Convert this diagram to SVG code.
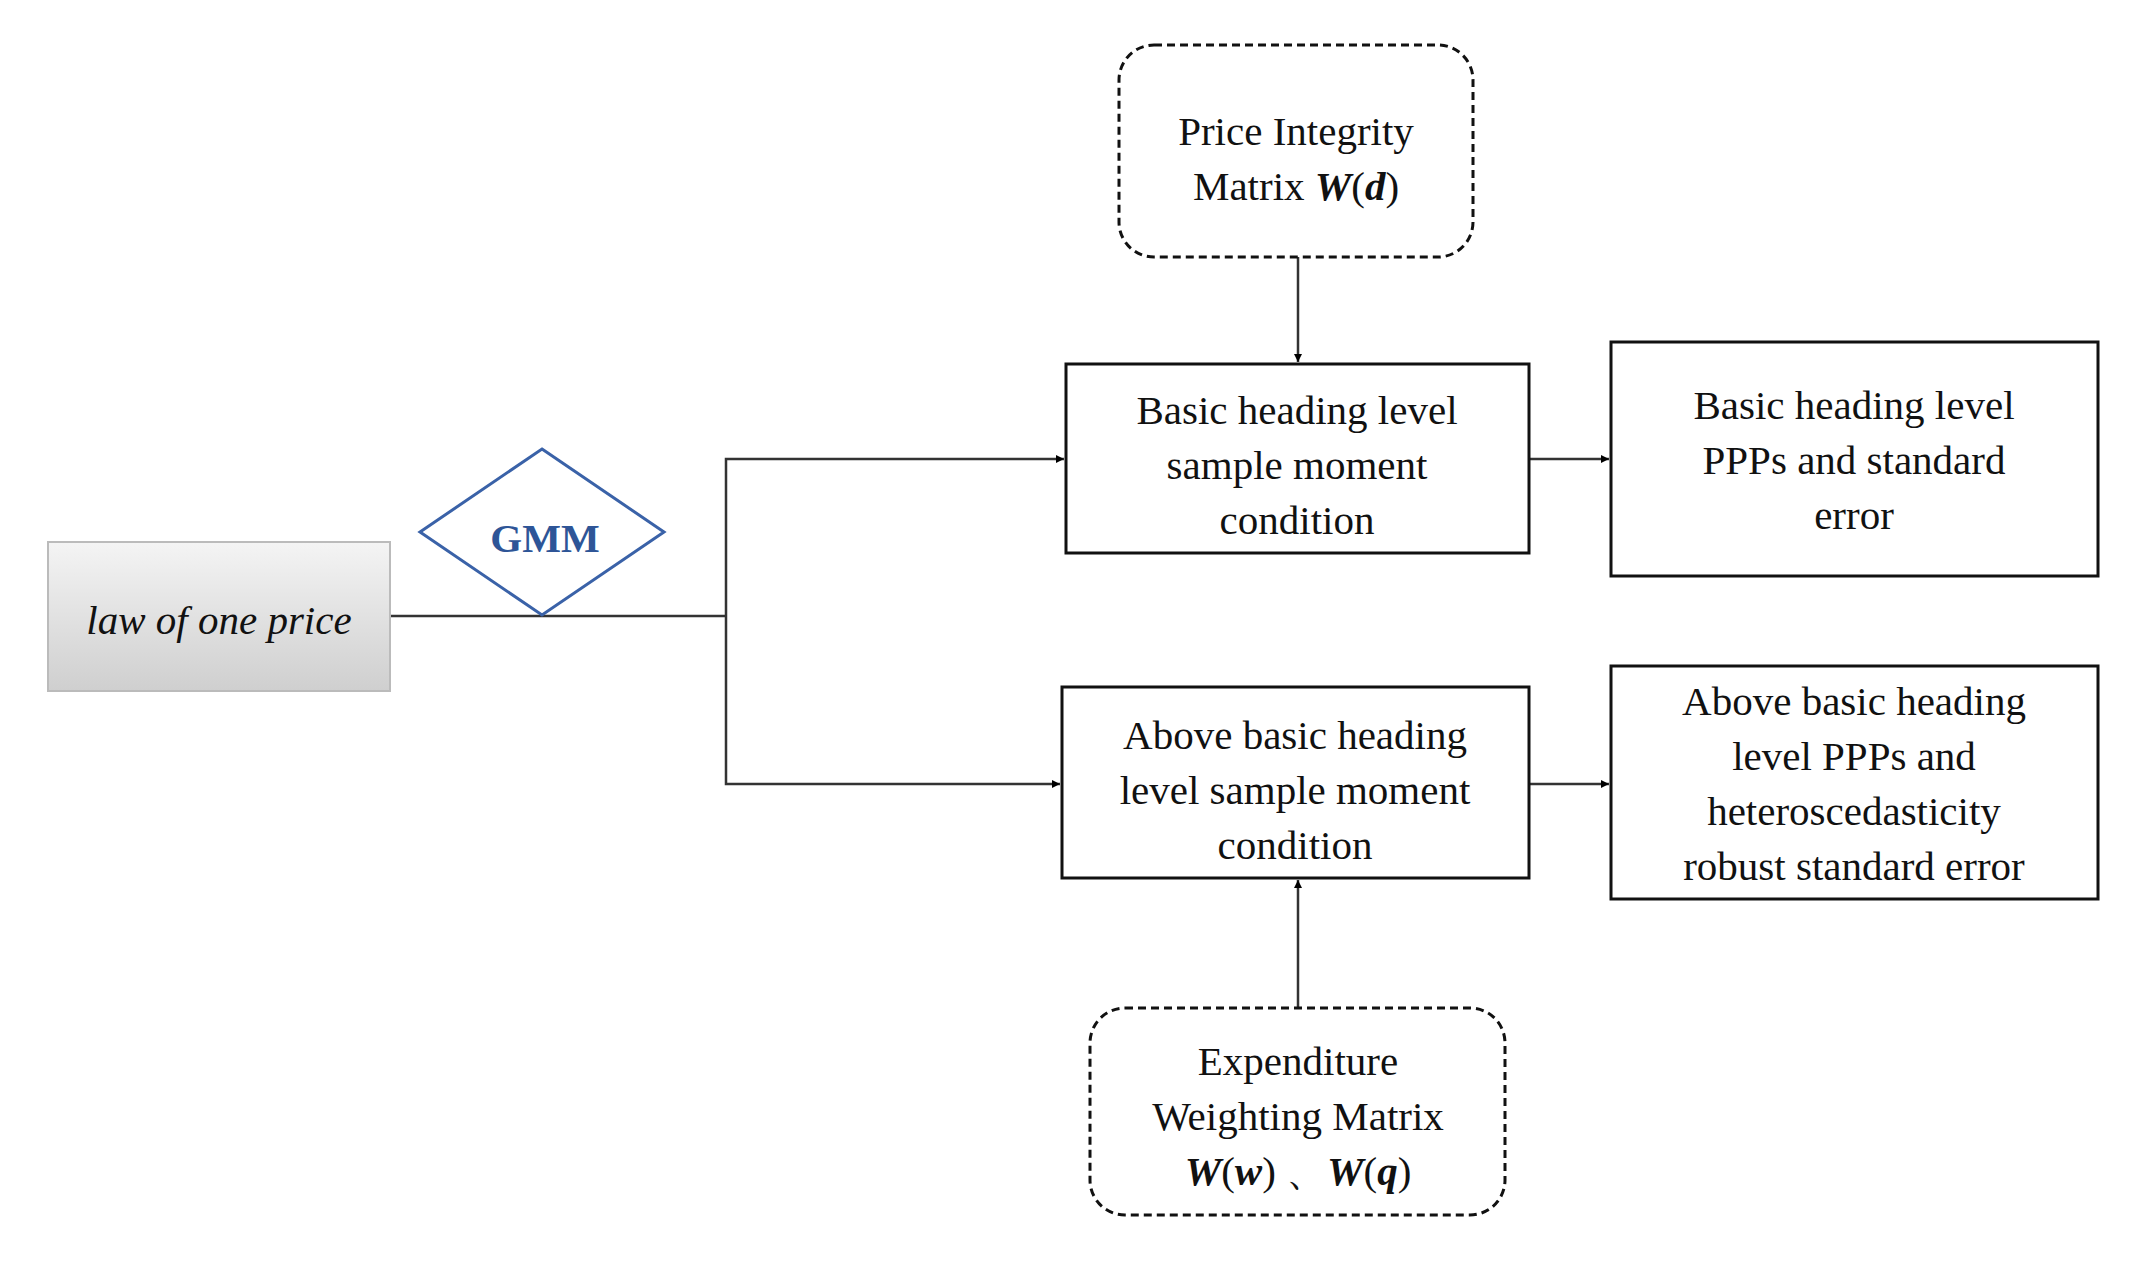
<svg xmlns="http://www.w3.org/2000/svg" width="2134" height="1262" viewBox="0 0 2134 1262">
<defs>
<linearGradient id="g" x1="0" y1="0" x2="0" y2="1"><stop offset="0" stop-color="#f4f4f4"/><stop offset="1" stop-color="#cfcfcf"/></linearGradient>
<marker id="a" viewBox="0 0 10 10" refX="10" refY="5" markerWidth="8" markerHeight="8" markerUnits="userSpaceOnUse" orient="auto"><path d="M0,0L10,5L0,10z" fill="#000"/></marker>
<style>
.t{font-family:"Liberation Serif",serif;font-size:41px;fill:#111;text-anchor:middle}
.b{fill:#fff;stroke:#111;stroke-width:3}
.d{fill:#fff;stroke:#111;stroke-width:3;stroke-dasharray:8,5}
.c{fill:none;stroke:#333;stroke-width:2.5;marker-end:url(#a)}
.l{fill:none;stroke:#333;stroke-width:2.5}
</style>
</defs>
<rect width="2134" height="1262" fill="#fff"/>
<g id="connectors">
<path class="l" d="M390,616H726"/>
<path class="c" d="M726,616V459H1064"/>
<path class="c" d="M726,616V784H1060"/>
<path class="c" d="M1298,257V362"/>
<path class="c" d="M1298,1008V880"/>
<path class="c" d="M1529,459H1609"/>
<path class="c" d="M1529,784H1609"/>
</g>
<g id="law"><rect x="48" y="542" width="342" height="149" fill="url(#g)" stroke="#bbb" stroke-width="2"/><text class="t" x="219" y="634" font-style="italic">law of one price</text></g>
<g id="gmm"><path d="M542,449L664,532L542,615L420,532z" fill="#fff" stroke="#3a62a8" stroke-width="3"/><text class="t" x="545" y="552" font-weight="bold" style="fill:#2e5597">GMM</text></g>
<g id="pim"><rect class="d" x="1119" y="45" width="354" height="212" rx="35"/><text class="t" x="1296" y="145">Price Integrity</text><text class="t" x="1296" y="200">Matrix <tspan font-weight="bold" font-style="italic">W</tspan>(<tspan font-weight="bold" font-style="italic">d</tspan>)</text></g>
<g id="basic"><rect class="b" x="1066" y="364" width="463" height="189"/><text class="t" x="1297" y="424">Basic heading level</text><text class="t" x="1297" y="479">sample moment</text><text class="t" x="1297" y="534">condition</text></g>
<g id="basicout"><rect class="b" x="1611" y="342" width="487" height="234"/><text class="t" x="1854" y="419">Basic heading level</text><text class="t" x="1854" y="474">PPPs and standard</text><text class="t" x="1854" y="529">error</text></g>
<g id="above"><rect class="b" x="1062" y="687" width="467" height="191"/><text class="t" x="1295" y="749">Above basic heading</text><text class="t" x="1295" y="804">level sample moment</text><text class="t" x="1295" y="859">condition</text></g>
<g id="aboveout"><rect class="b" x="1611" y="666" width="487" height="233"/><text class="t" x="1854" y="715">Above basic heading</text><text class="t" x="1854" y="770">level PPPs and</text><text class="t" x="1854" y="825">heteroscedasticity</text><text class="t" x="1854" y="880">robust standard error</text></g>
<g id="ewm"><rect class="d" x="1090" y="1008" width="415" height="207" rx="35"/><text class="t" x="1298" y="1075">Expenditure</text><text class="t" x="1298" y="1130">Weighting Matrix</text><text class="t" x="1298" y="1185"><tspan font-weight="bold" font-style="italic">W</tspan>(<tspan font-weight="bold" font-style="italic">w</tspan>) 、<tspan font-weight="bold" font-style="italic">W</tspan>(<tspan font-weight="bold" font-style="italic">q</tspan>)</text></g>
</svg>
